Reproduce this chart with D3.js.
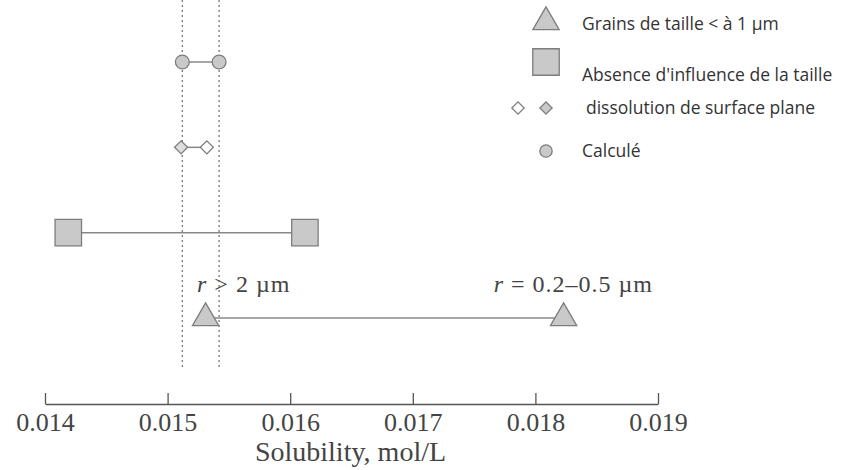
<!DOCTYPE html>
<html>
<head>
<meta charset="utf-8">
<script src="https://cdn.jsdelivr.net/npm/d3@7"></script>
<style>
  body { margin: 0; background: #fff; }
</style>
</head>
<body>
<svg id="plotCanvas" width="846" height="470"></svg>
<script>
var canvasWidth = 846, canvasHeight = 470;

// data
var rows = ["calc", "plane", "size", "grains"];
var calcValues = [0.01512, 0.01542];
var planeValues = [0.01511, 0.01532];
var sizeValues = [0.01419, 0.01612];
var grainValues = [0.01531, 0.01823];
var refLines = [0.01512, 0.01542];
var xTicks = [0.014, 0.015, 0.016, 0.017, 0.018, 0.019];

var canvas = d3.select("#plotCanvas");

var x = d3.scaleLinear().domain([0.014, 0.019]).range([45, 658]);
var y = d3.scalePoint().domain(rows).range([62, 318]);

var fill = "#c9c9c9", stroke = "#7d7d7d";
var serif = "Liberation Serif, Times New Roman, serif";

// dotted reference lines
canvas.selectAll(".ref").data(refLines).enter().append("line")
    .attr("x1", function(d) { return x(d); })
    .attr("x2", function(d) { return x(d); })
    .attr("y1", 0).attr("y2", 370)
    .attr("stroke", "#777")
    .attr("stroke-width", 1.3)
    .attr("stroke-dasharray", "2,3");

function markerPath(symbol, size)
{
    return d3.symbol().type(symbol).size(size)();
}

function drawRow(key, vals, symbol, size, fills, rot)
{
    canvas.append("line")
        .attr("x1", x(vals[0])).attr("x2", x(vals[1]))
        .attr("y1", y(key)).attr("y2", y(key))
        .attr("stroke", "#888").attr("stroke-width", 1.5);
    canvas.selectAll(".m-" + key).data(vals).enter().append("path")
        .attr("class", "m-" + key)
        .attr("transform", function(d) { return "translate(" + x(d) + "," + y(key) + ")" + (rot ? " rotate(45)" : ""); })
        .attr("d", markerPath(symbol, size))
        .attr("fill", function(d, i) { return fills ? fills[i] : fill; })
        .attr("stroke", stroke)
        .attr("stroke-width", 1.3);
}

drawRow("calc", calcValues, d3.symbolCircle, 150);
drawRow("plane", planeValues, d3.symbolSquare, 85, ["#ddd", "#fff"], true);
drawRow("size", sizeValues, d3.symbolSquare, 700);
drawRow("grains", grainValues, d3.symbolTriangle, 300);

// annotations
canvas.append("text")
    .attr("x", 197).attr("y", 292)
    .attr("font-family", serif)
    .attr("font-size", "24px").attr("letter-spacing", "1px").attr("fill", "#444")
    .html("<tspan font-style='italic'>r</tspan> &gt; 2 µm");
canvas.append("text")
    .attr("x", 653).attr("y", 292)
    .attr("text-anchor", "end")
    .attr("font-family", serif)
    .attr("font-size", "24px").attr("letter-spacing", "1px").attr("fill", "#444")
    .html("<tspan font-style='italic'>r</tspan> = 0.2–0.5 µm");

// axis
var axisG = canvas.append("g")
    .attr("transform", "translate(0,404)")
    .call(d3.axisBottom(x).tickValues(xTicks).tickSize(0).tickPadding(9)
        .tickFormat(d3.format(".3f")));
axisG.select(".domain").attr("stroke", "#555").attr("stroke-width", 1.3);
axisG.selectAll(".tick").append("line")
    .attr("y1", 0).attr("y2", -11)
    .attr("stroke", "#555").attr("stroke-width", 1.3);
axisG.selectAll("text")
    .attr("font-family", serif)
    .attr("font-size", "26px").attr("fill", "#444");

canvas.append("text")
    .attr("x", x(0.0165) - 1).attr("y", 461)
    .attr("text-anchor", "middle")
    .attr("font-family", serif)
    .attr("font-size", "28px").attr("fill", "#444")
    .text("Solubility, mol/L");

// legend
var legendLabels = ["Grains de taille < à 1 µm", "Absence d'influence de la taille", "dissolution de surface plane", "Calculé"];
var legendY = [22, 62, 108, 151];
var legendTextY = [24, 75, 108, 151];
var lx = 546;

canvas.append("path")
    .attr("transform", "translate(" + lx + "," + legendY[0] + ")")
    .attr("d", markerPath(d3.symbolTriangle, 300))
    .attr("fill", fill).attr("stroke", stroke).attr("stroke-width", 1.3);
canvas.append("path")
    .attr("transform", "translate(" + lx + "," + legendY[1] + ")")
    .attr("d", markerPath(d3.symbolSquare, 700))
    .attr("fill", fill).attr("stroke", stroke).attr("stroke-width", 1.3);
canvas.append("path")
    .attr("transform", "translate(" + (lx - 28) + "," + legendY[2] + ") rotate(45)")
    .attr("d", markerPath(d3.symbolSquare, 75))
    .attr("fill", "#fff").attr("stroke", stroke).attr("stroke-width", 1.3);
canvas.append("path")
    .attr("transform", "translate(" + lx + "," + legendY[2] + ") rotate(45)")
    .attr("d", markerPath(d3.symbolSquare, 75))
    .attr("fill", fill).attr("stroke", stroke).attr("stroke-width", 1.3);
canvas.append("path")
    .attr("transform", "translate(" + lx + "," + legendY[3] + ")")
    .attr("d", markerPath(d3.symbolCircle, 120))
    .attr("fill", fill).attr("stroke", stroke).attr("stroke-width", 1.3);

canvas.selectAll(".legendText").data(legendLabels).enter().append("text")
    .attr("class", "legendText")
    .attr("x", function(d, i) { return i == 2 ? 586 : 582; })
    .attr("y", function(d, i) { return legendTextY[i]; })
    .attr("dy", "0.35em")
    .attr("font-family", "Open Sans, sans-serif")
    .attr("font-size", "17.5px").attr("fill", "#333")
    .text(function(d) { return d; });
</script>
</body>
</html>
